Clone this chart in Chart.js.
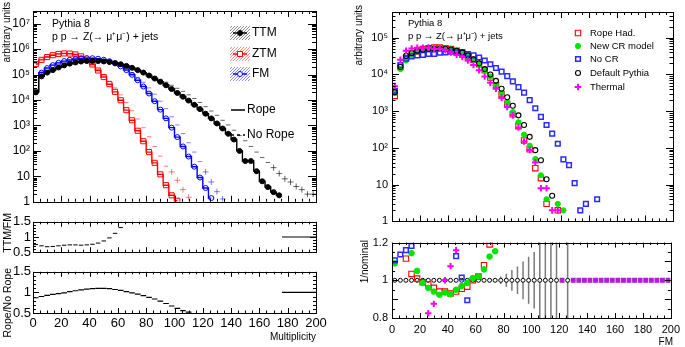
<!DOCTYPE html>
<html>
<head>
<meta charset="utf-8">
<script src="https://cdn.jsdelivr.net/npm/chart.js@4/dist/chart.umd.min.js"></script>
<style>
  body { margin: 0; background: #fff; }
  #wrap { position: relative; width: 685px; height: 347px; overflow: hidden; }
  canvas { position: absolute; }
</style>
</head>
<body>
<div id="wrap">
  <canvas id="mainL" width="330" height="212" style="left:0px;top:0px"></canvas>
  <canvas id="ratioL1" width="330" height="50" style="left:0px;top:212px"></canvas>
  <canvas id="ratioL2" width="330" height="85" style="left:0px;top:262px"></canvas>
  <canvas id="mainR" width="340" height="232" style="left:345px;top:0px"></canvas>
  <canvas id="ratioR" width="340" height="115" style="left:345px;top:232px"></canvas>
</div>
<script>
// bin centres (bin width 4)
const binCenters = [2, 6, 10, 14, 18, 22, 26, 30, 34, 38, 42, 46, 50, 54, 58, 62, 66, 70, 74, 78,
  82, 86, 90, 94, 98, 102, 106, 110, 114, 118, 122, 126, 130, 134, 138, 142, 146, 150, 154, 158,
  162, 166, 170, 174, 178, 182, 186, 190, 194, 198];

// left: multiplicity, Rope
const ttmRope = [2e4, 8.5e4, 1.2e5, 1.5e5, 1.9e5, 2.3e5, 2.7e5, 3.0e5, 3.25e5, 3.4e5, 3.45e5, 3.4e5, 3.3e5,
  3.1e5, 2.85e5, 2.55e5, 2.2e5, 1.85e5, 1.5e5, 1.2e5, 9.2e4, 7e4, 5.2e4, 3.8e4, 2.7e4, 1.9e4, 1.35e4,
  9.5e3, 6.5e3, 4.4e3, 2.9e3, 1.9e3, 1.2e3, 760, 470, 280, 100, 40, 40, 16, 6.4, 3.8, 2.4, 1.8];
const ztmRope = [2.6e5, 3.8e5, 4.9e5, 5.8e5, 6.5e5, 6.8e5, 6.7e5, 6.2e5, 5.2e5, 3.9e5, 2.5e5, 1.45e5, 8e4,
  4.2e4, 2.1e4, 9.8e3, 4e3, 1.6e3, 620, 240, 90, 34, 12, 4.5, 1.8, 1.1];
const fmRope = [2.2e4, 1.2e5, 1.8e5, 2.35e5, 2.9e5, 3.4e5, 3.8e5, 4.1e5, 4.35e5, 4.45e5, 4.4e5, 4.2e5, 3.85e5,
  3.35e5, 2.75e5, 2.1e5, 1.5e5, 9.8e4, 6e4, 3.4e4, 1.8e4, 9e3, 4.2e3, 1.9e3, 820, 350, 150, 60, 24, 9, 3.5, 1.4];

// left: multiplicity, No Rope
const ttmNoRope = [2.3e4, 9.5e4, 1.3e5, 1.6e5, 1.95e5, 2.3e5, 2.65e5, 2.9e5, 3.05e5, 3.15e5, 3.15e5, 3.1e5, 3e5,
  2.85e5, 2.65e5, 2.45e5, 2.15e5, 1.85e5, 1.55e5, 1.3e5, 1.05e5, 8.3e4, 6.5e4, 5e4, 3.8e4, 2.9e4, 2.2e4,
  1.6e4, 1.15e4, 8e3, 5.5e3, 3.7e3, 2.5e3, 1.6e3, 1.05e3, 650, 400, 250, 150, 90, 55, 35, 22, 13, 8, 6, 4, 3, 2, 2];
const ztmNoRope = [2.8e5, 4.1e5, 5.2e5, 6e5, 6.5e5, 6.6e5, 6.4e5, 5.8e5, 4.9e5, 3.8e5, 2.6e5, 1.6e5, 9.5e4,
  5.5e4, 3e4, 1.6e4, 8e3, 3.8e3, 1.8e3, 820, 360, 150, 62, 25, 15, 7, 3, 1.5];
const fmNoRope = [2e4, 1.3e5, 1.9e5, 2.4e5, 2.9e5, 3.3e5, 3.6e5, 3.85e5, 4e5, 4.05e5, 3.95e5, 3.75e5, 3.45e5,
  3.05e5, 2.6e5, 2.1e5, 1.6e5, 1.15e5, 7.8e4, 5e4, 3e4, 1.7e4, 9e3, 4.6e3, 2.2e3, 1.05e3, 480, 210, 90, 38,
  15, 6, 2.5, 1.3];

// left ratio panels
const ttmFmRatio = [0.75, 0.71, 0.68, 0.69, 0.71, 0.73, 0.74, 0.74, 0.73, 0.74, 0.76, 0.8, 0.87, 0.97, 1.12, 1.31];
const ropeNoRopeRatio = [0.87, 0.9, 0.93, 0.95, 0.97, 0.99, 1.02, 1.04, 1.06, 1.08, 1.09, 1.1, 1.1, 1.09,
  1.07, 1.05, 1.02, 0.99, 0.96, 0.92, 0.88, 0.84, 0.79, 0.73, 0.67, 0.61, 0.56, 0.52];
const flatBins = [176, 200];
const flatRatio = [1, 1];

// right: FM
const ropeHad = [2.6e3, 1.6e4, 2.8e4, 3.8e4, 4.2e4, 4.9e4, 5.2e4, 5.4e4, 5.4e4, 5.2e4, 4.9e4, 4.4e4, 3.9e4,
  3.1e4, 2.5e4, 1.9e4, 1.3e4, 8.2e3, 5.1e3, 2.9e3, 1.6e3, 820, 390, 160, 92, 28, 15, 3, null, 2];
const newCr = [3.1e3, 1.4e4, 2.4e4, 3.4e4, 4.2e4, 4.7e4, 5e4, 5.2e4, 5.3e4, 5.2e4, 4.9e4, 4.4e4, 3.9e4,
  3.2e4, 2.5e4, 1.9e4, 1.3e4, 8.8e3, 5.1e3, 3.1e3, 1.7e3, 950, 500, 230, 115, 50, 18, 4, null, 3, 2];
const noCr = [3.6e3, 1.8e4, 2.7e4, 3.1e4, 3.3e4, 3.4e4, 3.6e4, 3.6e4, 3.9e4, 4e4, 4.2e4, 4e4, 4e4, 3.6e4,
  3.3e4, 2.9e4, 2.4e4, 1.9e4, 1.5e4, 1.2e4, 9e3, 6.5e3, 4.5e3, 3.2e3, 2e3, 1.2e3, 700, 420, 245, 130, 49,
  34, 11, 2, 3, null, 4];
const defaultPythia = [3.3e3, 1.6e4, 3.2e4, 3.8e4, 4.4e4, 4.7e4, 5e4, 5e4, 5e4, 5e4, 4.8e4, 4.4e4, 4e4,
  3.3e4, 2.6e4, 2e4, 1.4e4, 1e4, 6.7e3, 4.1e3, 2.4e3, 1.4e3, 770, 420, 200, 87, 46, 14, 5];
const thermal = [4.8e3, 2.5e4, 4.4e4, 5.1e4, 5.3e4, 5.3e4, 5.4e4, 4.9e4, 5e4, 4.6e4, 4e4, 3.4e4, 3e4,
  2.4e4, 1.8e4, 1.3e4, 8.8e3, 5.9e3, 4.1e3, 2.3e3, 1.3e3, 770, 360, 150, 88, 40, 8, 8, 2, 2];

// right ratio panel (1/nominal)
const ropeHadRatioBins = [10, 14, 18, 22, 26, 30, 34, 38, 42, 46, 50, 54, 58, 62, 66, 70];
const ropeHadRatio = [1.115, 1.034, 1.009, 0.99, 0.978, 0.96, 0.94, 0.94, 0.93, 0.94, 0.955, 0.966, 1.0, 1.02, 1.08, 1.19];
const newCrRatioBins = [2, 14, 18, 22, 26, 30, 34, 38, 42, 46, 50, 54, 58, 62, 66, 70, 74];
const newCrRatio = [1.09, 1.144, 1.05, 0.986, 0.96, 0.94, 0.923, 0.935, 0.926, 0.95, 0.97, 0.986, 1.012, 1.02, 1.058, 1.126, 1.154];
const noCrRatioBins = [2, 6, 10, 14, 46, 50, 54];
const noCrRatio = [1.106, 1.137, 1.16, 1.183, 1.128, 1.015, 0.894];
const thermalRatioBins = [26, 30, 38, 42, 46];
const thermalRatio = [0.825, 0.875, 1.0, 1.075, 1.16];
const defaultRatioBins = [2, 6, 10, 14, 18, 22, 26, 30, 34, 38, 42, 46, 50, 54, 58, 62, 66, 70, 74, 78,
  82, 86, 90, 94, 98, 102, 106, 110, 114, 118, 126];
const defaultRatio = [1, 1, 1, 1, 1, 1, 1, 1, 1, 1, 1, 1, 1, 1, 1, 1, 1, 1, 1, 1, 1, 1, 1, 1, 1, 1, 1, 1, 1, 1, 1];
const defaultRatioErr = [0, 0, 0, 0, 0, 0, 0, 0, 0, 0, 0, 0, 0, 0, 0, 0, 0, 0, 0, 0.02,
  0.035, 0.055, 0.073, 0.1, 0.125, 0.15, 0.4, 0.4, 0.4, 0.4, 0.4];
const emptyBins = [122, 130, 134, 138, 142, 146, 150, 154, 158, 162, 166, 170, 174, 178, 182, 186, 190, 194, 198];
const emptyRatio = [1, 1, 1, 1, 1, 1, 1, 1, 1, 1, 1, 1, 1, 1, 1, 1, 1, 1, 1];

const FONT = '"Liberation Sans", Arial, Helvetica, sans-serif';
Chart.defaults.font.family = FONT;
Chart.defaults.color = '#000';
Chart.defaults.animation = false;
Chart.defaults.responsive = false;
Chart.defaults.plugins.legend.display = false;
Chart.defaults.plugins.tooltip.enabled = false;

function xy(bins, vals) {
  const out = [];
  bins.forEach((x, i) => {
    if (vals[i] != null) out.push({ x: x, y: vals[i] });
  });
  return out;
}

const SUP = '⁰¹²³⁴⁵⁶⁷⁸⁹';
function powLabel(v) {
  const l = Math.log10(v);
  const e = Math.round(l);
  if (Math.abs(l - e) > 1e-6) return '';
  if (e === 0) return '1';
  if (e === 1) return '10';
  return '10' + SUP[e];
}
const plainLabel = v => String(Math.round(v * 100) / 100);

// ROOT-like frame with inward ticks on all four sides
const rootAxes = {
  id: 'rootAxes',
  afterDatasetsDraw(chart, args, o) {
    const { ctx, chartArea: a, scales: { x, y } } = chart;
    const on = (v, step) => Math.abs(v / step - Math.round(v / step)) < 1e-6;
    ctx.save();
    ctx.strokeStyle = '#000';
    ctx.lineWidth = 1;
    ctx.beginPath();
    for (let v = x.min; v <= x.max + 1e-9; v += o.xMinor) {
      const px = Math.round(x.getPixelForValue(v)) + 0.5;
      const len = on(v, o.xMajor) ? o.xLen : o.xLen / 2;
      ctx.moveTo(px, a.bottom); ctx.lineTo(px, a.bottom - len);
      ctx.moveTo(px, a.top); ctx.lineTo(px, a.top + len);
    }
    const yt = [];
    if (y.type === 'logarithmic') {
      for (let e = Math.floor(Math.log10(y.min)); e <= Math.log10(y.max); e++) {
        for (let m = 1; m < 10; m++) yt.push([m * Math.pow(10, e), m === 1]);
      }
    } else {
      for (let v = y.min; v <= y.max + 1e-9; v += o.yMinor) yt.push([v, on(v, o.yMajor)]);
    }
    yt.forEach(([v, major]) => {
      if (v < y.min * 0.9999 || v > y.max * 1.0001) return;
      const py = Math.round(y.getPixelForValue(v)) + 0.5;
      const len = major ? o.yLen : o.yLen / 2;
      ctx.moveTo(a.left, py); ctx.lineTo(a.left + len, py);
      ctx.moveTo(a.right, py); ctx.lineTo(a.right - len, py);
    });
    ctx.stroke();
    ctx.strokeRect(Math.round(a.left) + 0.5, Math.round(a.top) + 0.5,
      Math.round(a.right - a.left), Math.round(a.bottom - a.top));
    ctx.restore();
  }
};

// vertical error bars for datasets that carry an "errors" list
const errBars = {
  id: 'errBars',
  beforeDatasetsDraw(chart) {
    const { ctx, chartArea: a, scales: { y } } = chart;
    chart.data.datasets.forEach((ds, i) => {
      if (!ds.errors) return;
      const meta = chart.getDatasetMeta(i);
      ctx.save();
      ctx.beginPath();
      ctx.rect(a.left, a.top, a.right - a.left, a.bottom - a.top);
      ctx.clip();
      ctx.strokeStyle = ds.errColor || '#777';
      ctx.lineWidth = 1.5;
      ctx.beginPath();
      meta.data.forEach((pt, j) => {
        const e = ds.errors[j];
        if (!e) return;
        const v = ds.data[j].y;
        ctx.moveTo(pt.x, y.getPixelForValue(v - e));
        ctx.lineTo(pt.x, y.getPixelForValue(v + e));
      });
      ctx.stroke();
      ctx.restore();
    });
  }
};

// free text (titles, annotations)
const notes = {
  id: 'notes',
  afterDraw(chart, args, o) {
    const ctx = chart.ctx;
    (o.items || []).forEach(t => {
      ctx.save();
      ctx.font = t.size + 'px ' + FONT;
      ctx.fillStyle = '#000';
      ctx.textAlign = t.align || 'left';
      ctx.textBaseline = 'middle';
      ctx.translate(t.x, t.y);
      if (t.rot) ctx.rotate(-Math.PI / 2);
      ctx.fillText(t.text, 0, 0);
      ctx.restore();
    });
  }
};

// one legend marker, drawn by hand so open markers stay open
function keyMarker(ctx, k) {
  const r = k.r || 3;
  ctx.lineWidth = k.bw || 1;
  ctx.strokeStyle = k.color;
  ctx.beginPath();
  if (k.marker === 'circle') {
    ctx.arc(k.x, k.y, r, 0, Math.PI * 2);
  } else if (k.marker === 'rect') {
    const s = r * Math.SQRT1_2;
    ctx.rect(k.x - s, k.y - s, 2 * s, 2 * s);
  } else if (k.marker === 'cross') {
    ctx.moveTo(k.x - r, k.y); ctx.lineTo(k.x + r, k.y);
    ctx.moveTo(k.x, k.y - r); ctx.lineTo(k.x, k.y + r);
  }
  if (typeof k.fill === 'string' && k.fill !== 'none') {
    ctx.fillStyle = k.fill;
    ctx.fill();
  }
  ctx.stroke();
}

// legend drawn inside the frame, ROOT style
const keys = {
  id: 'keys',
  afterDraw(chart, args, o) {
    const ctx = chart.ctx;
    (o.items || []).forEach(k => {
      ctx.save();
      if (typeof k.hatch === 'string') {
        ctx.save();
        ctx.beginPath();
        ctx.rect(k.x - 10, k.y - 7, 20, 14);
        ctx.clip();
        ctx.strokeStyle = k.hatch;
        ctx.lineWidth = 1;
        ctx.beginPath();
        for (let d = -24; d <= 24; d += 3) {
          ctx.moveTo(k.x + d - 8, k.y + 8);
          ctx.lineTo(k.x + d + 8, k.y - 8);
        }
        ctx.stroke();
        ctx.restore();
      }
      ctx.strokeStyle = k.color;
      if (k.line === true) {
        ctx.lineWidth = 1.5;
        ctx.setLineDash(k.dash === true ? [3, 3] : []);
        ctx.beginPath();
        ctx.moveTo(k.x - 7, k.y);
        ctx.lineTo(k.x + 7, k.y);
        ctx.stroke();
        ctx.setLineDash([]);
      }
      if (k.marker !== 'none') keyMarker(ctx, k);
      ctx.fillStyle = '#000';
      ctx.font = k.size + 'px ' + FONT;
      ctx.textBaseline = 'middle';
      ctx.fillText(k.text, k.tx, k.y);
      ctx.restore();
    });
  }
};

Chart.register(rootAxes, errBars, notes, keys);

function xScale(o) {
  return {
    type: 'linear', min: 0, max: 200,
    ticks: { display: o.labels, stepSize: 20, autoSkip: false, maxRotation: 0, padding: o.pad || 3, font: { size: o.font || 13 } },
    grid: { display: false, drawTicks: false },
    border: { display: false },
    afterFit: s => { s.height = o.h; }
  };
}
function logY(o) {
  return {
    type: 'logarithmic', min: 1, max: o.max,
    ticks: { callback: powLabel, autoSkip: false, padding: o.pad, font: { size: o.font } },
    grid: { display: false, drawTicks: false },
    border: { display: false },
    afterFit: s => { s.width = o.w; }
  };
}
function linY(o) {
  return {
    type: 'linear', min: o.min, max: o.max,
    ticks: { stepSize: o.step, callback: plainLabel, autoSkip: false, padding: o.pad, font: { size: o.font } },
    grid: { display: false, drawTicks: false },
    border: { display: false },
    afterFit: s => { s.width = o.w; }
  };
}

function ropeLine(data, color, style, fill) {
  return {
    data: data, borderColor: color, backgroundColor: fill, borderWidth: 1.4,
    stepped: 'middle', pointStyle: style, pointRadius: style === 'rect' ? 3.6 : 2.5, pointBorderWidth: 1,
    pointBorderColor: color, pointBackgroundColor: fill
  };
}
// no-rope points: bin-wide dash, small-count bins show as crosses with their error bar
function noRopePts(data, color) {
  return {
    data: data, showLine: false,
    pointStyle: c => (c.raw && c.raw.y < 25 ? 'cross' : 'line'),
    pointRadius: c => (c.raw && c.raw.y < 25 ? 3 : 2.2),
    pointBorderWidth: 1, pointBorderColor: color, borderColor: color
  };
}
function marks(data, color, style, fill, r, bw) {
  return {
    data: data, showLine: false, pointStyle: style, pointRadius: r, pointBorderWidth: bw,
    pointBorderColor: color, pointBackgroundColor: fill, borderColor: color, backgroundColor: fill
  };
}

// ---- left main panel ----
new Chart(document.getElementById('mainL'), {
  type: 'line',
  data: {
    datasets: [
      ropeLine(xy(binCenters, ttmRope), '#000000', 'circle', '#000000'),
      ropeLine(xy(binCenters, fmRope), '#0000ff', 'circle', 'rgba(255,255,255,0)'),
      ropeLine(xy(binCenters, ztmRope), '#ff0000', 'rect', 'rgba(255,255,255,0)'),
      noRopePts(xy(binCenters, ttmNoRope), 'rgba(0,0,0,0.6)'),
      noRopePts(xy(binCenters, fmNoRope), 'rgba(0,0,255,0.5)'),
      noRopePts(xy(binCenters, ztmNoRope), 'rgba(255,0,0,0.5)')
    ]
  },
  options: {
    layout: { padding: { top: 11, right: 14, left: 0, bottom: 0 } },
    scales: {
      x: xScale({ labels: false, h: 7 }),
      y: logY({ max: Math.pow(10, 7.5), w: 33, pad: 3, font: 12 })
    },
    plugins: {
      rootAxes: { xMajor: 20, xMinor: 5, xLen: 6, yLen: 8 },
      notes: { items: [
        { text: 'arbitrary units', x: 7, y: 2, size: 10, align: 'right', rot: true },
        { text: 'Pythia 8', x: 52, y: 24, size: 10.5 },
        { text: 'p p → Z(→ μ⁺μ⁻) + jets', x: 52, y: 37, size: 10.5 }
      ] },
      keys: { items: [
        { x: 240, y: 33, tx: 252, size: 12, text: 'TTM', color: '#000', marker: 'circle', fill: '#000', r: 2.5, line: true, dash: false, hatch: 'rgba(0,0,0,0.45)' },
        { x: 240, y: 54, tx: 252, size: 12, text: 'ZTM', color: '#ff0000', marker: 'rect', fill: '#fff', r: 3.6, line: true, dash: false, hatch: 'rgba(255,0,0,0.45)' },
        { x: 240, y: 74, tx: 252, size: 12, text: 'FM', color: '#0000ff', marker: 'circle', fill: '#fff', r: 2.5, line: true, dash: false, hatch: 'rgba(0,0,255,0.45)' },
        { x: 238, y: 110, tx: 247, size: 12, text: 'Rope', color: '#000', marker: 'none', line: true, dash: false, hatch: false },
        { x: 238, y: 135, tx: 247, size: 12, text: 'No Rope', color: '#000', marker: 'none', line: true, dash: true, hatch: false }
      ] }
    }
  }
});

// ---- left ratio TTM/FM ----
new Chart(document.getElementById('ratioL1'), {
  type: 'line',
  data: {
    datasets: [
      marks(xy(binCenters, ttmFmRatio), '#000', 'line', '#000', 2.2, 1),
      { data: xy(flatBins, flatRatio), borderColor: '#000', borderWidth: 1.2, pointRadius: 0 }
    ]
  },
  options: {
    layout: { padding: { top: 3, right: 14, left: 0, bottom: 0 } },
    scales: {
      x: xScale({ labels: false, h: 4 }),
      y: linY({ min: 0.5, max: 1.5, step: 0.5, w: 33, pad: 2, font: 13 })
    },
    plugins: {
      rootAxes: { xMajor: 20, xMinor: 5, xLen: 5, yMajor: 0.5, yMinor: 0.1, yLen: 6 },
      notes: { items: [
        { text: 'TTM/FM', x: 8, y: 1, size: 10.5, align: 'right', rot: true }
      ] }
    }
  }
});

// ---- left ratio Rope/No Rope ----
new Chart(document.getElementById('ratioL2'), {
  type: 'line',
  data: {
    datasets: [
      marks(xy(binCenters, ropeNoRopeRatio), '#000', 'line', '#000', 2.8, 1.2),
      { data: xy(flatBins, flatRatio), borderColor: '#000', borderWidth: 1.2, pointRadius: 0 }
    ]
  },
  options: {
    layout: { padding: { top: 9, right: 14, left: 0, bottom: 0 } },
    scales: {
      x: xScale({ labels: true, h: 34, pad: 3, font: 13 }),
      y: linY({ min: 0.5, max: 1.5, step: 0.5, w: 33, pad: 2, font: 13 })
    },
    plugins: {
      rootAxes: { xMajor: 20, xMinor: 5, xLen: 5, yMajor: 0.5, yMinor: 0.1, yLen: 6 },
      notes: { items: [
        { text: 'Rope/No Rope', x: 8, y: 6, size: 10.5, align: 'right', rot: true },
        { text: 'Multiplicity', x: 316, y: 75, size: 10, align: 'right' }
      ] }
    }
  }
});

// ---- right main panel ----
new Chart(document.getElementById('mainR'), {
  type: 'line',
  data: {
    datasets: [
      marks(xy(binCenters, thermal), '#ff00ff', 'cross', '#ff00ff', 3.3, 2),
      marks(xy(binCenters, defaultPythia), '#000000', 'circle', 'rgba(255,255,255,0)', 2.5, 1.1),
      marks(xy(binCenters, noCr), '#2a2aff', 'rect', 'rgba(255,255,255,0)', 3.3, 1.5),
      marks(xy(binCenters, newCr), '#00e600', 'circle', '#00e600', 2.6, 1),
      marks(xy(binCenters, ropeHad), '#ff0000', 'rect', 'rgba(255,255,255,0)', 3.8, 1.1)
    ]
  },
  options: {
    layout: { padding: { top: 12, right: 12, left: 0, bottom: 0 } },
    scales: {
      x: xScale({ labels: false, h: 4 }),
      y: logY({ max: Math.pow(10, 5.7), w: 47, pad: 4, font: 11 })
    },
    plugins: {
      rootAxes: { xMajor: 20, xMinor: 5, xLen: 6, yLen: 7 },
      notes: { items: [
        { text: 'arbitrary units', x: 14, y: 5, size: 10, align: 'right', rot: true },
        { text: 'Pythia 8', x: 63, y: 23, size: 9.5 },
        { text: 'p p → Z(→ μ⁺μ⁻) + jets', x: 63, y: 36, size: 9.5 }
      ] },
      keys: { items: [
        { x: 233, y: 33, tx: 245, size: 9.5, text: 'Rope Had.', color: '#ff0000', marker: 'rect', fill: 'none', r: 3.8, bw: 1.1, line: false, hatch: false },
        { x: 233, y: 46, tx: 245, size: 9.5, text: 'New CR model', color: '#00e600', marker: 'circle', fill: '#00e600', r: 2.6, bw: 1, line: false, hatch: false },
        { x: 233, y: 59, tx: 245, size: 9.5, text: 'No CR', color: '#2a2aff', marker: 'rect', fill: 'none', r: 3.3, bw: 1.5, line: false, hatch: false },
        { x: 233, y: 73, tx: 245, size: 9.5, text: 'Default Pythia', color: '#000', marker: 'circle', fill: 'none', r: 2.5, bw: 1.1, line: false, hatch: false },
        { x: 233, y: 87, tx: 245, size: 9.5, text: 'Thermal', color: '#ff00ff', marker: 'cross', fill: 'none', r: 3.3, bw: 2, line: false, hatch: false }
      ] }
    }
  }
});

// ---- right ratio panel ----
new Chart(document.getElementById('ratioR'), {
  type: 'line',
  data: {
    datasets: [
      marks(xy(emptyBins, emptyRatio), '#b01ed8', 'rect', '#b01ed8', 2.6, 1.2),
      marks(xy(thermalRatioBins, thermalRatio), '#ff00ff', 'cross', '#ff00ff', 3.2, 2),
      marks(xy(noCrRatioBins, noCrRatio), '#2a2aff', 'rect', 'rgba(255,255,255,0)', 3.3, 1.5),
      marks(xy(newCrRatioBins, newCrRatio), '#00e600', 'circle', '#00e600', 2.8, 1),
      marks(xy(ropeHadRatioBins, ropeHadRatio), '#ff0000', 'rect', 'rgba(255,255,255,0)', 3.8, 1.1),
      Object.assign(marks(xy(defaultRatioBins, defaultRatio), '#000000', 'circle', '#ffffff', 2, 1),
        { errors: defaultRatioErr, errColor: '#7a7a7a' })
    ]
  },
  options: {
    layout: { padding: { top: 8, right: 12, left: 0, bottom: 0 } },
    scales: {
      x: xScale({ labels: true, h: 29, pad: 5, font: 11 }),
      y: linY({ min: 0.8, max: 1.2, step: 0.2, w: 47, pad: 4, font: 11 })
    },
    plugins: {
      rootAxes: { xMajor: 20, xMinor: 5, xLen: 5, yMajor: 0.1, yMinor: 0.05, yLen: 6 },
      notes: { items: [
        { text: '1/nominal', x: 20, y: 8, size: 10, align: 'right', rot: true },
        { text: 'FM', x: 328, y: 110, size: 10, align: 'right' }
      ] }
    }
  }
});
</script>
</body>
</html>
